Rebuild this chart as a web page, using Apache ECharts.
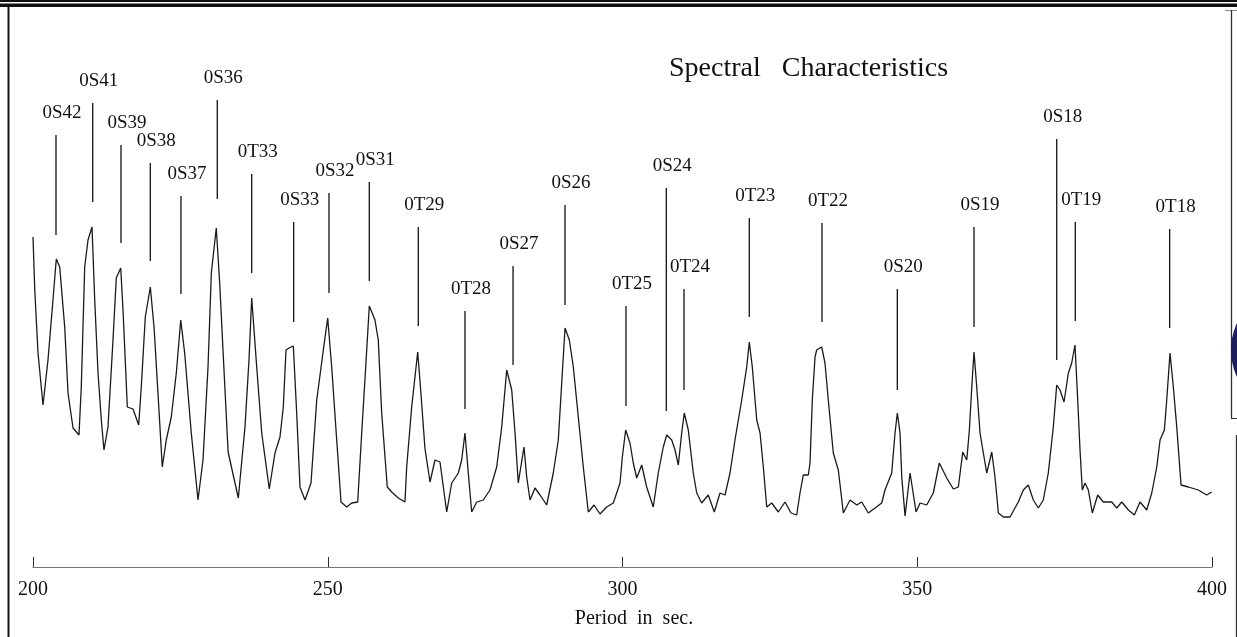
<!DOCTYPE html>
<html>
<head>
<meta charset="utf-8">
<script src="https://cdn.jsdelivr.net/npm/echarts@6/dist/echarts.min.js"></script>
<style>
  html, body { margin: 0; padding: 0; background: #fff; }
  #chart { width: 1237px; height: 637px; }
</style>
</head>
<body>
<div id="chart"></div>
<script>
// Period axis (sec) and relative spectral amplitude (arbitrary units)
var periods = [
  200.0,200.3,200.85,201.7,202.54,203.39,203.95,204.53,205.38,205.94,
  206.79,207.8,208.19,208.77,209.33,210.01,210.47,211.03,211.59,212.04,
  212.72,213.57,214.13,214.88,215.27,216.0,216.96,217.93,218.37,219.05,
  219.9,220.53,221.2,221.93,222.61,223.46,224.31,225.06,225.73,226.85,
  227.99,228.84,229.69,230.25,231.09,231.67,232.23,233.1,234.83,235.96,
  236.64,237.1,237.95,238.8,240.08,241.05,241.9,242.46,242.92,243.43,
  244.16,244.73,245.29,246.14,247.16,248.13,249.25,249.99,250.67,251.52,
  252.25,253.21,254.06,255.08,255.76,256.44,257.05,258.01,258.57,259.15,
  260.1,260.85,261.97,263.1,263.39,264.24,265.26,265.7,266.5,267.35,
  268.19,269.04,270.18,271.03,272.15,272.72,273.28,273.84,274.42,275.27,
  276.39,277.52,278.66,279.51,280.36,281.21,281.77,282.32,283.29,283.75,
  284.31,285.16,286.01,287.14,288.26,289.11,289.69,290.25,290.98,291.66,
  292.5,293.35,294.2,295.17,296.18,297.32,298.44,299.58,299.97,300.54,
  301.27,301.83,302.41,303.26,304.1,305.22,306.07,306.92,307.5,308.35,
  308.91,309.47,310.04,310.48,311.16,312.01,312.59,313.43,314.55,315.57,
  316.54,317.39,318.24,319.08,320.22,321.07,321.51,322.02,322.77,323.33,
  323.89,324.47,325.31,326.43,327.57,328.59,329.55,330.11,330.67,331.52,
  331.81,332.2,332.66,332.94,333.79,334.35,334.91,335.76,336.61,337.46,
  338.6,339.74,340.58,341.7,342.84,343.97,344.53,345.67,346.23,346.62,
  347.08,347.37,347.93,348.78,349.8,350.48,351.6,352.72,353.74,355.0,
  356.12,356.97,357.72,358.4,358.84,359.25,359.63,360.09,360.65,361.21,
  361.79,362.64,363.19,363.76,364.6,365.74,366.02,367.14,367.99,368.84,
  369.69,370.54,371.38,372.23,373.08,373.66,374.22,374.9,375.63,376.2,
  376.76,377.22,377.61,378.0,378.46,379.02,379.7,380.61,381.56,382.99,
  383.84,384.69,385.81,386.83,387.79,388.93,389.78,390.63,391.19,391.92,
  392.32,392.88,393.44,394.02,394.75,395.99,397.68,398.53,399.1,399.95
];
var amplitude = [
  330,277,214,162,207,267,308,300,240,174,
  139,132,180,300,327,340,267,194,147,117,
  140,227,289,299,257,160,158,142,180,250,
  280,240,174,100,127,150,194,247,214,134,
  67,107,200,294,339,284,217,115,69,140,
  207,269,200,134,78,114,130,160,217,219,
  221,154,80,67,84,167,217,249,200,127,
  65,60,64,65,134,200,261,247,227,154,
  80,75,69,65,100,160,215,182,118,85,
  107,105,55,84,94,107,134,94,55,65,
  67,77,100,140,197,177,134,84,120,90,
  67,79,72,62,94,127,184,239,227,200,
  150,100,55,62,53,60,64,84,110,137,
  124,104,89,102,80,60,94,120,132,127,
  117,102,134,154,137,94,74,64,72,55,
  74,72,94,127,167,200,225,200,147,134,
  100,60,64,55,65,54,52,74,92,92,
  104,167,210,217,220,204,167,114,97,54,
  67,62,65,54,59,64,77,94,134,154,
  134,90,51,94,55,64,62,74,104,89,
  78,80,115,107,137,180,215,180,134,114,
  94,115,90,54,50,50,52,65,77,82,
  67,59,67,94,140,182,177,165,194,204,
  222,167,117,77,84,77,54,72,65,65,
  59,65,57,52,65,57,74,100,127,137,
  167,214,180,140,82,80,77,74,72,75
];

// Mode identification markers
var modeNames   = ['0S42','0S41','0S39','0S38','0S37','0S36','0T33','0S33','0S32','0S31','0T29','0T28','0S27','0S26','0T25','0S24','0T24','0T23','0T22','0S20','0S19','0S18','0T19','0T18'];
var modePeriods = [203.9,210.13,214.93,219.9,225.1,231.26,237.1,244.22,250.21,257.05,265.36,273.28,281.43,290.25,300.59,307.43,310.43,321.51,333.84,346.62,359.63,373.66,376.81,392.82];
var markerLow   = [332,365,324,306,273,368,294,245,274,286,241,158,202,262,161,156,177,250,245,177,240,207,246,239];
var markerHigh  = [432,464,422,404,371,467,393,345,374,385,340,256,301,362,261,379,278,349,344,278,340,428,345,338];

var xTicks = [200, 250, 300, 350, 400];

var lineData = periods.map(function (p, i) { return [p, amplitude[i]]; });
var markerData = modePeriods.map(function (p, i) { return [p, markerLow[i], markerHigh[i]]; });

var serif = '"Liberation Serif", "DejaVu Serif", serif';

var chart = echarts.init(document.getElementById('chart'), null, { renderer: 'canvas' });
chart.setOption({
  animation: false,
  backgroundColor: '#ffffff',
  grid: { left: 33, right: 25, top: 0, bottom: 70, containLabel: false, outerBoundsMode: 'none' },
  xAxis: {
    type: 'value',
    min: xTicks[0], max: xTicks[xTicks.length - 1], interval: 50,
    splitLine: { show: false },
    axisLine: { lineStyle: { color: '#777', width: 1 } },
    axisTick: { inside: true, length: 10, lineStyle: { color: '#333', width: 1 } },
    axisLabel: { fontSize: 20, fontFamily: serif, color: '#111', margin: 13 },
    name: 'Period  in  sec.',
    nameLocation: 'middle',
    nameGap: 42,
    nameTextStyle: { fontSize: 20, fontFamily: serif, color: '#111', padding: [0, 0, 0, 23] }
  },
  yAxis: { type: 'value', min: 0, max: 567, show: false },
  series: [
    {
      type: 'line',
      data: lineData,
      showSymbol: false,
      symbol: 'none',
      lineStyle: { color: '#1a1a1a', width: 1.3 },
      z: 3
    },
    {
      type: 'custom',
      data: markerData,
      clip: false,
      z: 4,
      renderItem: function (params, api) {
        var p1 = api.coord([api.value(0), api.value(1)]);
        var p2 = api.coord([api.value(0), api.value(2)]);
        return {
          type: 'group',
          children: [
            { type: 'line', shape: { x1: p1[0], y1: p1[1], x2: p2[0], y2: p2[1] },
              style: { stroke: '#111', lineWidth: 1.3 } },
            { type: 'text',
              style: { text: modeNames[params.dataIndex], x: p2[0] + 6, y: p2[1] - 22,
                       align: 'center', verticalAlign: 'middle',
                       fontSize: 19, fontFamily: serif, fill: '#111' } }
          ]
        };
      }
    }
  ],
  graphic: [
    { type: 'text', left: 669, top: 55, z: 10,
      style: { text: 'Spectral   Characteristics', fontSize: 28, fontFamily: serif, fill: '#111' } },
    // page frame decoration
    { type: 'rect', shape: { x: 0, y: 0, width: 1237, height: 2 }, style: { fill: '#111' }, z: 10 },
    { type: 'rect', shape: { x: 0, y: 3.5, width: 1237, height: 3.5 }, style: { fill: '#111' }, z: 10 },
    { type: 'rect', shape: { x: 7.5, y: 7, width: 2, height: 630 }, style: { fill: '#111' }, z: 10 },
    { type: 'line', shape: { x1: 1225, y1: 10.5, x2: 1237, y2: 10.5 }, style: { stroke: '#888', lineWidth: 1 }, z: 10 },
    { type: 'line', shape: { x1: 1231.5, y1: 10, x2: 1231.5, y2: 418 }, style: { stroke: '#333', lineWidth: 1.3 }, z: 10 },
    { type: 'line', shape: { x1: 1231, y1: 418.5, x2: 1237, y2: 418.5 }, style: { stroke: '#333', lineWidth: 1 }, z: 10 },
    { type: 'line', shape: { x1: 1236.5, y1: 435, x2: 1236.5, y2: 637 }, style: { stroke: '#333', lineWidth: 1.3 }, z: 10 },
    { type: 'circle', shape: { cx: 1295, cy: 350, r: 64 }, style: { fill: '#1e1e5e' }, z: 11 }
  ]
});
</script>
</body>
</html>
